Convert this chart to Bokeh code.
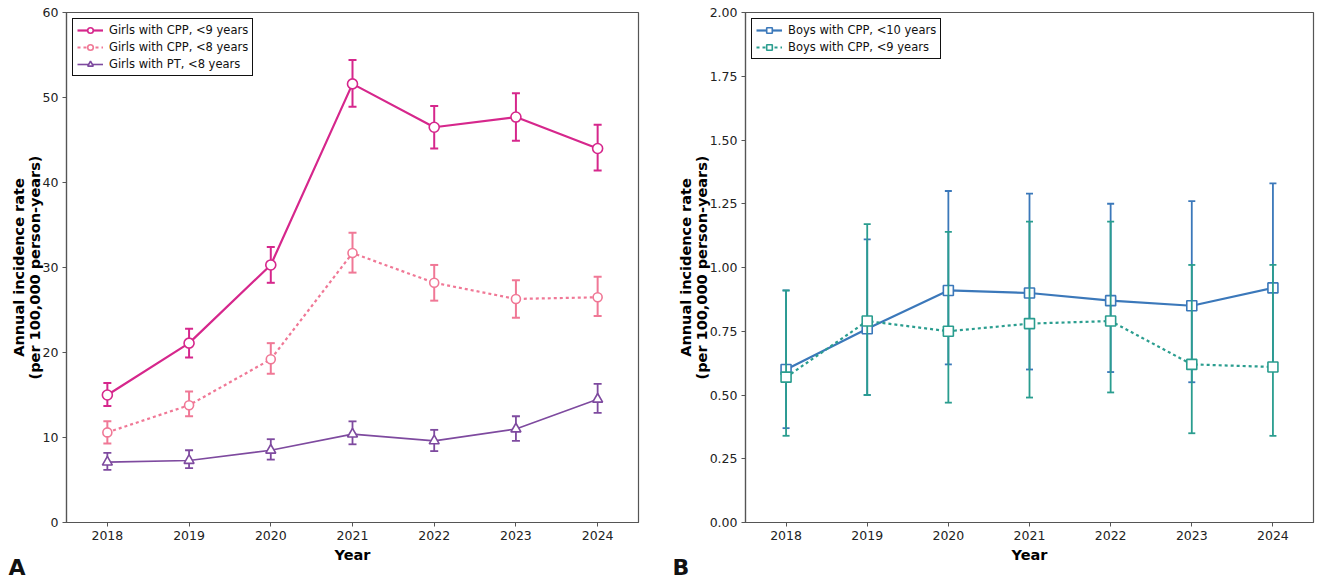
from bokeh.plotting import figure
from bokeh.layouts import row
from bokeh.models import FixedTicker, Legend, LegendItem, Title, NumeralTickFormatter, Range1d
from bokeh.embed import file_html
from bokeh.resources import INLINE

years = [2018, 2019, 2020, 2021, 2022, 2023, 2024]

# Panel A (girls)
g9 = [15.0, 21.1, 30.3, 51.6, 46.5, 47.7, 44.0]
g9_lo = [13.7, 19.4, 28.2, 48.9, 44.0, 44.9, 41.4]
g9_hi = [16.4, 22.8, 32.4, 54.4, 49.0, 50.5, 46.8]
g8 = [10.6, 13.8, 19.2, 31.7, 28.2, 26.3, 26.5]
g8_lo = [9.3, 12.5, 17.5, 29.4, 26.1, 24.1, 24.3]
g8_hi = [11.9, 15.4, 21.1, 34.1, 30.3, 28.5, 28.9]
pt = [7.1, 7.3, 8.5, 10.4, 9.6, 11.0, 14.5]
pt_lo = [6.2, 6.4, 7.4, 9.2, 8.4, 9.6, 12.9]
pt_hi = [8.2, 8.5, 9.8, 11.9, 10.9, 12.5, 16.3]

# Panel B (boys)
b10 = [0.60, 0.76, 0.91, 0.90, 0.87, 0.85, 0.92]
b10_lo = [0.37, 0.50, 0.62, 0.60, 0.59, 0.55, 0.62]
b10_hi = [0.91, 1.11, 1.30, 1.29, 1.25, 1.26, 1.33]
b9 = [0.57, 0.79, 0.75, 0.78, 0.79, 0.62, 0.61]
b9_lo = [0.34, 0.50, 0.47, 0.49, 0.51, 0.35, 0.34]
b9_hi = [0.91, 1.17, 1.14, 1.18, 1.18, 1.01, 1.01]

left_ticks = [0, 10, 20, 30, 40, 50, 60]
right_ticks = [0, 0.25, 0.5, 0.75, 1.0, 1.25, 1.5, 1.75, 2.0]

FONT = "DejaVu Sans"
AX = "#555555"
YLABEL = "Annual incidence rate\n(per 100,000 person-years)"


def style(p, yticks):
    p.xaxis.ticker = FixedTicker(ticks=years)
    p.yaxis.ticker = FixedTicker(ticks=yticks)
    for ax in (p.xaxis, p.yaxis):
        ax.axis_line_color = AX
        ax.axis_line_width = 1.2
        ax.major_tick_line_color = AX
        ax.minor_tick_line_color = None
        ax.major_tick_out = 4
        ax.major_tick_in = 0
        ax.major_label_text_font = FONT
        ax.major_label_text_font_size = "12.5px"
        ax.major_label_text_color = "#222222"
        ax.major_label_standoff = 4
        ax.axis_label_text_font = FONT
        ax.axis_label_text_font_size = "14.5px"
        ax.axis_label_text_font_style = "bold"
        ax.axis_label_text_color = "#000000"
        ax.axis_label_text_line_height = 1.0
    p.xaxis.axis_label_standoff = 4
    p.yaxis.axis_label_standoff = -3
    p.xaxis.axis_label = "Year"
    p.yaxis.axis_label = YLABEL
    p.xgrid.grid_line_color = None
    p.ygrid.grid_line_color = None
    p.outline_line_color = AX
    p.outline_line_width = 1.2


def series(p, y, lo, hi, color, marker, width, dash, cap, msize, ewidth):
    p.segment(x0=years, y0=lo, x1=years, y1=hi, line_color=color, line_width=ewidth)
    p.scatter(x=years, y=lo, marker="dash", size=cap, line_color=color, line_width=ewidth)
    p.scatter(x=years, y=hi, marker="dash", size=cap, line_color=color, line_width=ewidth)
    ln = p.line(x=years, y=y, line_color=color, line_width=width, line_dash=dash)
    mk = p.scatter(x=years, y=y, marker=marker, size=msize, line_color=color,
                   fill_color="white", line_width=1.6)
    return [ln, mk]


def legend(p, items):
    lg = Legend(items=[LegendItem(label=t, renderers=r) for t, r in items],
                location="top_left")
    lg.border_line_color = "#111111"
    lg.border_line_width = 1
    lg.border_line_alpha = 1
    lg.background_fill_color = "white"
    lg.background_fill_alpha = 1
    lg.label_text_font = FONT
    lg.label_text_font_size = "11.5px"
    lg.label_text_color = "#111111"
    lg.label_height = 14
    lg.glyph_height = 14
    lg.glyph_width = 26
    lg.label_standoff = 6
    lg.spacing = 3
    lg.padding = 4
    lg.margin = 6
    p.add_layout(lg)


def panel_letter(p, letter, offset):
    t = Title(text=letter, align="left", offset=offset, standoff=-29,
              text_font=FONT, text_font_size="22px", text_font_style="bold",
              text_color="#111111")
    p.add_layout(t, "below")


# ---------- Panel A ----------
p1 = figure(width=659, height=580, output_backend="svg", toolbar_location=None,
            x_range=Range1d(2017.5, 2024.5), y_range=Range1d(0, 60),
            min_border_left=66, min_border_right=21, min_border_top=12,
            min_border_bottom=58)
style(p1, left_ticks)
r1 = series(p1, g9, g9_lo, g9_hi, "#D6278C", "circle", 2.2, "solid", 8, 10, 2)
r2 = series(p1, g8, g8_lo, g8_hi, "#F07896", "circle", 2.2, "3 3", 8, 9, 2)
r3 = series(p1, pt, pt_lo, pt_hi, "#7E4A9F", "triangle", 1.6, "solid", 8, 10, 1.8)
legend(p1, [("Girls with CPP, <9 years", r1),
            ("Girls with CPP, <8 years", r2),
            ("Girls with PT, <8 years", r3)])
panel_letter(p1, "A", -58)

# ---------- Panel B ----------
p2 = figure(width=660, height=580, output_backend="svg", toolbar_location=None,
            x_range=Range1d(2017.5, 2024.5), y_range=Range1d(0, 2.0),
            min_border_left=86, min_border_right=6, min_border_top=12,
            min_border_bottom=58)
style(p2, right_ticks)
p2.yaxis.formatter = NumeralTickFormatter(format="0.00")
s1 = series(p2, b10, b10_lo, b10_hi, "#3B78BA", "square", 2.2, "solid", 7, 10, 1.8)
s2 = series(p2, b9, b9_lo, b9_hi, "#2A9D8F", "square", 2.2, "3 3", 7, 10, 1.8)
legend(p2, [("Boys with CPP, <10 years", s1),
            ("Boys with CPP, <9 years", s2)])
panel_letter(p2, "B", -73)

layout = row(p1, p2)
open("out.html", "w").write(file_html(layout, INLINE))
